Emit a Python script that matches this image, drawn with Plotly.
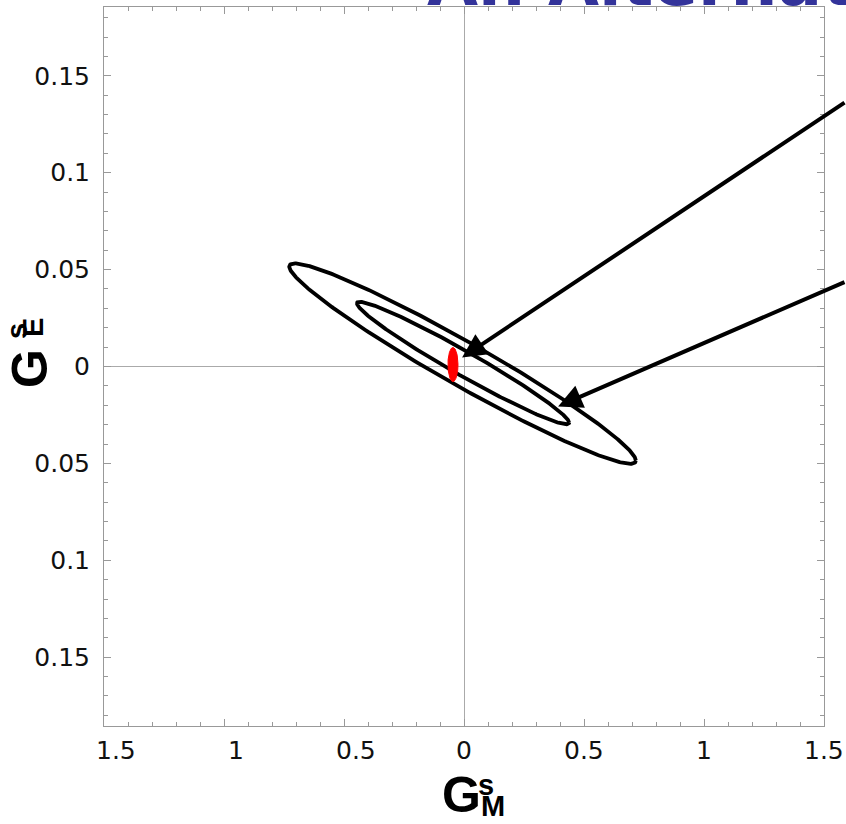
import numpy as np
import plotly.graph_objects as go

# ---- data -------------------------------------------------------------
# axis ticks (labels drawn without sign, as on the slide)
x_tick_vals = [-1.5, -1.0, -0.5, 0.0, 0.5, 1.0, 1.5]
x_tick_text = ["1.5", "1", "0.5", "0", "0.5", "1", "1.5"]
y_tick_vals = [0.15, 0.10, 0.05, 0.0, -0.05, -0.10, -0.15]
y_tick_text = ["0.15", "0.1", "0.05", "0", "0.05", "0.1", "0.15"]

# confidence contours: centre (GM, GE), half-extent in GM and GE, correlation
outer_center = (-0.006, 0.0015)
outer_extent = (0.722, 0.0517)
outer_rho = -0.968

inner_center = (-0.004, 0.0018)
inner_extent = (0.442, 0.0316)
inner_rho = -0.974

# small projected region (red), centre and half-widths
red_center = (-0.046, 0.001)
red_half = (0.021, 0.0088)

# arrow heads (data coordinates)
arrow_tips_x = [-0.008, 0.392]
arrow_tips_y = [0.0046, -0.0206]

X_RANGE = [-1.5, 1.5]
Y_RANGE = [-0.1855, 0.1855]

# ---- layout geometry ----------------------------------------------------
W, H = 846, 824
ML, MR, MT, MB = 104, 22, 7, 98
PW, PH = W - ML - MR, H - MT - MB


def px_to_paper(px, py):
    return (px - ML) / PW, (H - MB - py) / PH


def corr_ellipse(center, extent, rho, n=361):
    t = np.linspace(0, 2 * np.pi, n)
    x = center[0] + extent[0] * np.cos(t)
    y = center[1] + extent[1] * (rho * np.cos(t) + np.sqrt(1 - rho ** 2) * np.sin(t))
    return x, y


fig = go.Figure()

for c, e, r in [(outer_center, outer_extent, outer_rho), (inner_center, inner_extent, inner_rho)]:
    ex, ey = corr_ellipse(c, e, r)
    fig.add_trace(go.Scatter(x=ex, y=ey, mode="lines",
                             line=dict(color="black", width=3.8),
                             hoverinfo="skip", showlegend=False))

t = np.linspace(0, 2 * np.pi, 121)
fig.add_trace(go.Scatter(x=red_center[0] + red_half[0] * np.cos(t),
                         y=red_center[1] + red_half[1] * np.sin(t),
                         mode="lines", fill="toself", fillcolor="#ff0000",
                         line=dict(color="#ff0000", width=1),
                         hoverinfo="skip", showlegend=False))

axis_common = dict(
    showgrid=False,
    showline=True, linecolor="#999999", linewidth=1, mirror="ticks",
    ticks="inside", ticklen=7, tickcolor="#999999", tickwidth=1,
    zeroline=True, zerolinecolor="#aaaaaa", zerolinewidth=1,
)

tick_font = dict(family="DejaVu Sans", size=25, color="#111111")

fig.update_xaxes(range=X_RANGE, tickvals=x_tick_vals, showticklabels=False,
                 minor=dict(ticks="inside", dtick=0.1, ticklen=4, tickcolor="#999999"),
                 **axis_common)
fig.update_yaxes(range=Y_RANGE, tickvals=y_tick_vals, ticktext=y_tick_text,
                 tickfont=tick_font, ticklabelstandoff=8,
                 minor=dict(ticks="inside", dtick=0.01, ticklen=4, tickcolor="#999999"),
                 **axis_common)

annotations = []

# x tick labels (negative values shifted right where the sign is missing)
for v, s in zip(x_tick_vals, x_tick_text):
    annotations.append(dict(x=v, y=0, xref="x", yref="paper", text=s,
                            showarrow=False, yanchor="middle", xanchor="center",
                            xshift=12 if v < 0 else 0, yshift=-24, font=tick_font))


def piece(px, py, text, size, angle=0):
    x, y = px_to_paper(px, py)
    return dict(x=x, y=y, xref="paper", yref="paper", text=text, showarrow=False,
                xanchor="center", yanchor="middle", textangle=angle, borderpad=0,
                font=dict(family="Liberation Sans, Arial", size=size, color="black"))


# axis titles built from pieces: G with stacked super/subscript
annotations += [
    piece(461, 795, "<b>G</b>", 50),
    piece(486, 785, "<b>s</b>", 29),
    piece(493, 806, "<b>M</b>", 29),
    piece(30, 369, "<b>G</b>", 50, -90),
    piece(17, 331, "<b>s</b>", 29, -90),
    piece(33, 328, "<b>E</b>", 29, -90),
]

# arrows coming in from the right edge (tails sit on the page edge)
arrow_dx = [384, 288]
arrow_dy = [-256, -125]
for xt, yt, ax, ay in zip(arrow_tips_x, arrow_tips_y, arrow_dx, arrow_dy):
    annotations.append(dict(x=xt, y=yt, xref="x", yref="y", text="",
                            showarrow=True, axref="pixel", ayref="pixel", ax=ax, ay=ay,
                            arrowhead=2, arrowsize=1.2, arrowwidth=4, arrowcolor="black",
                            standoff=0))

# slide heading, mostly above the page edge
hx, _ = px_to_paper(425, 0)
annotations.append(dict(x=hx, y=1, xref="paper", yref="paper", text="<b>An Alternative</b>",
                        showarrow=False, xanchor="left", yanchor="bottom", yshift=-16,
                        font=dict(family="DejaVu Sans", size=66, color="#33339a")))

fig.update_layout(
    width=W, height=H,
    margin=dict(l=ML, r=MR, t=MT, b=MB),
    paper_bgcolor="white", plot_bgcolor="white",
    annotations=annotations,
    showlegend=False,
)

fig.write_html("out.html")
